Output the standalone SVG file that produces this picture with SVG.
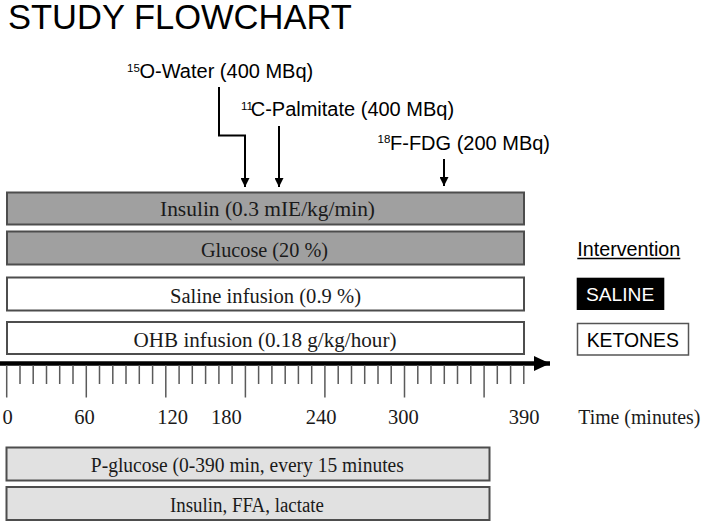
<svg xmlns="http://www.w3.org/2000/svg" width="709" height="521" viewBox="0 0 709 521">
<defs>
<style>
.sans{font-family:"Liberation Sans",Arial,sans-serif;fill:#000}
.serif{font-family:"Liberation Serif","Times New Roman",serif;fill:#1a1a1a;font-size:20.5px}
.dark{fill:#a0a0a0;stroke:#4d4d4d;stroke-width:2}
.white{fill:#ffffff;stroke:#4d4d4d;stroke-width:2}
.light{fill:#e1e1e1;stroke:#4d4d4d;stroke-width:2}
.conn{fill:none;stroke:#000;stroke-width:2}
.tick{fill:none;stroke:#5a5a5a;stroke-width:1.5}
.lbl{font-size:20px}
.sup{font-size:11.5px}
.num{font-family:"Liberation Serif","Times New Roman",serif;fill:#1a1a1a;font-size:20.5px;text-anchor:middle}
</style>
<marker id="ah" markerUnits="userSpaceOnUse" markerWidth="9" markerHeight="9" refX="9" refY="4.5" orient="auto">
<path d="M0,0 L9,4.5 L0,9 z" fill="#000"/>
</marker>
<marker id="axh" markerUnits="userSpaceOnUse" markerWidth="16" markerHeight="15" refX="16" refY="7.5" orient="auto">
<path d="M0,0 L16,7.5 L0,15 z" fill="#000"/>
</marker>
</defs>
<rect width="709" height="521" fill="#ffffff"/>

<g id="title">
<text class="sans" x="8" y="28.5" font-size="34.5">STUDY FLOWCHART</text>
</g>

<g id="label-water">
<text class="sans"><tspan class="sup" x="127" y="71.5">15</tspan><tspan class="lbl" x="139.5" y="77.5">O-Water (400 MBq)</tspan></text>
</g>
<g id="label-palmitate">
<text class="sans"><tspan class="sup" x="241" y="109.5">11</tspan><tspan class="lbl" x="250.7" y="116">C-Palmitate (400 MBq)</tspan></text>
</g>
<g id="label-fdg">
<text class="sans"><tspan class="sup" x="377.5" y="143">18</tspan><tspan class="lbl" x="390" y="149.5">F-FDG (200 MBq)</tspan></text>
</g>

<g id="connectors">
<path class="conn" d="M219,87 V135.5 H245 V187" marker-end="url(#ah)"/>
<path class="conn" d="M279,126 V187" marker-end="url(#ah)"/>
<path class="conn" d="M444,159 V186" marker-end="url(#ah)"/>
</g>

<g id="bar-insulin">
<rect class="dark" x="7" y="192.5" width="517" height="32"/>
<text class="serif" x="267.5" y="216" text-anchor="middle" textLength="215" lengthAdjust="spacingAndGlyphs">Insulin (0.3 mIE/kg/min)</text>
</g>
<g id="bar-glucose">
<rect class="dark" x="7" y="231.5" width="517" height="33"/>
<text class="serif" x="264.5" y="256.5" text-anchor="middle" textLength="127" lengthAdjust="spacingAndGlyphs">Glucose (20 %)</text>
</g>
<g id="bar-saline">
<rect class="white" x="7" y="277.5" width="517" height="33"/>
<text class="serif" x="265.5" y="302.5" text-anchor="middle" textLength="191" lengthAdjust="spacingAndGlyphs">Saline infusion (0.9 %)</text>
</g>
<g id="bar-ohb">
<rect class="white" x="7" y="322" width="517" height="32"/>
<text class="serif" x="265" y="346.5" text-anchor="middle" textLength="263" lengthAdjust="spacingAndGlyphs">OHB infusion (0.18 g/kg/hour)</text>
</g>

<g id="legend-title">
<text class="sans" x="577.3" y="256" font-size="19.5" textLength="103" lengthAdjust="spacingAndGlyphs">Intervention</text>
<line x1="577.3" y1="258.5" x2="680.3" y2="258.5" stroke="#000" stroke-width="1.3"/>
</g>
<g id="legend-saline">
<rect x="576.7" y="277.7" width="87.6" height="32.3" fill="#000"/>
<text class="sans" x="586" y="301" font-size="19.2" style="fill:#fff" textLength="68.3" lengthAdjust="spacingAndGlyphs">SALINE</text>
</g>
<g id="legend-ketones">
<rect x="577.5" y="323.5" width="111" height="31.5" fill="#fff" stroke="#555" stroke-width="1.5"/>
<text class="sans" x="586.7" y="346.7" font-size="19.3" textLength="92.3" lengthAdjust="spacingAndGlyphs">KETONES</text>
</g>

<g id="time-axis">
<line x1="0" y1="363.5" x2="550" y2="363.5" stroke="#000" stroke-width="4.5" marker-end="url(#axh)"/>
<path class="tick" d="M6.7,365V397.5 M20,365V384 M33.2,365V384 M46.5,365V384 M59.7,365V384 M73,365V384 M86.3,365V397.5 M99.5,365V384 M112.8,365V384 M126,365V384 M139.3,365V384 M152.6,365V384 M165.8,365V397.5 M179.1,365V384 M192.3,365V384 M205.6,365V384 M218.9,365V384 M232.1,365V384 M245.4,365V397.5 M258.6,365V384 M271.9,365V384 M285.2,365V384 M298.4,365V384 M311.7,365V384 M324.9,365V397.5 M338.2,365V384 M351.5,365V384 M364.7,365V384 M378,365V384 M391.2,365V384 M404.5,365V397.5 M417.8,365V384 M431,365V384 M444.3,365V384 M457.5,365V384 M470.8,365V384 M484.1,365V397.5 M497.3,365V384 M510.6,365V384 M523.8,365V384"/>
<text class="num" x="7.7" y="424">0</text>
<text class="num" x="84.5" y="424">60</text>
<text class="num" x="172.5" y="424">120</text>
<text class="num" x="226.3" y="424">180</text>
<text class="num" x="321" y="424">240</text>
<text class="num" x="403.3" y="424">300</text>
<text class="num" x="524" y="424">390</text>
<text class="serif" x="578.3" y="424" style="font-size:20.5px" textLength="122" lengthAdjust="spacingAndGlyphs">Time (minutes)</text>
</g>

<g id="bar-pglucose">
<rect class="light" x="6.5" y="447.5" width="483" height="33"/>
<text class="serif" x="247.3" y="472" text-anchor="middle" textLength="313" lengthAdjust="spacingAndGlyphs">P-glucose (0-390 min, every 15 minutes</text>
</g>
<g id="bar-samples">
<rect class="light" x="6.5" y="487" width="483" height="33"/>
<text class="serif" x="247" y="511.5" text-anchor="middle" textLength="154" lengthAdjust="spacingAndGlyphs">Insulin, FFA, lactate</text>
</g>
</svg>
